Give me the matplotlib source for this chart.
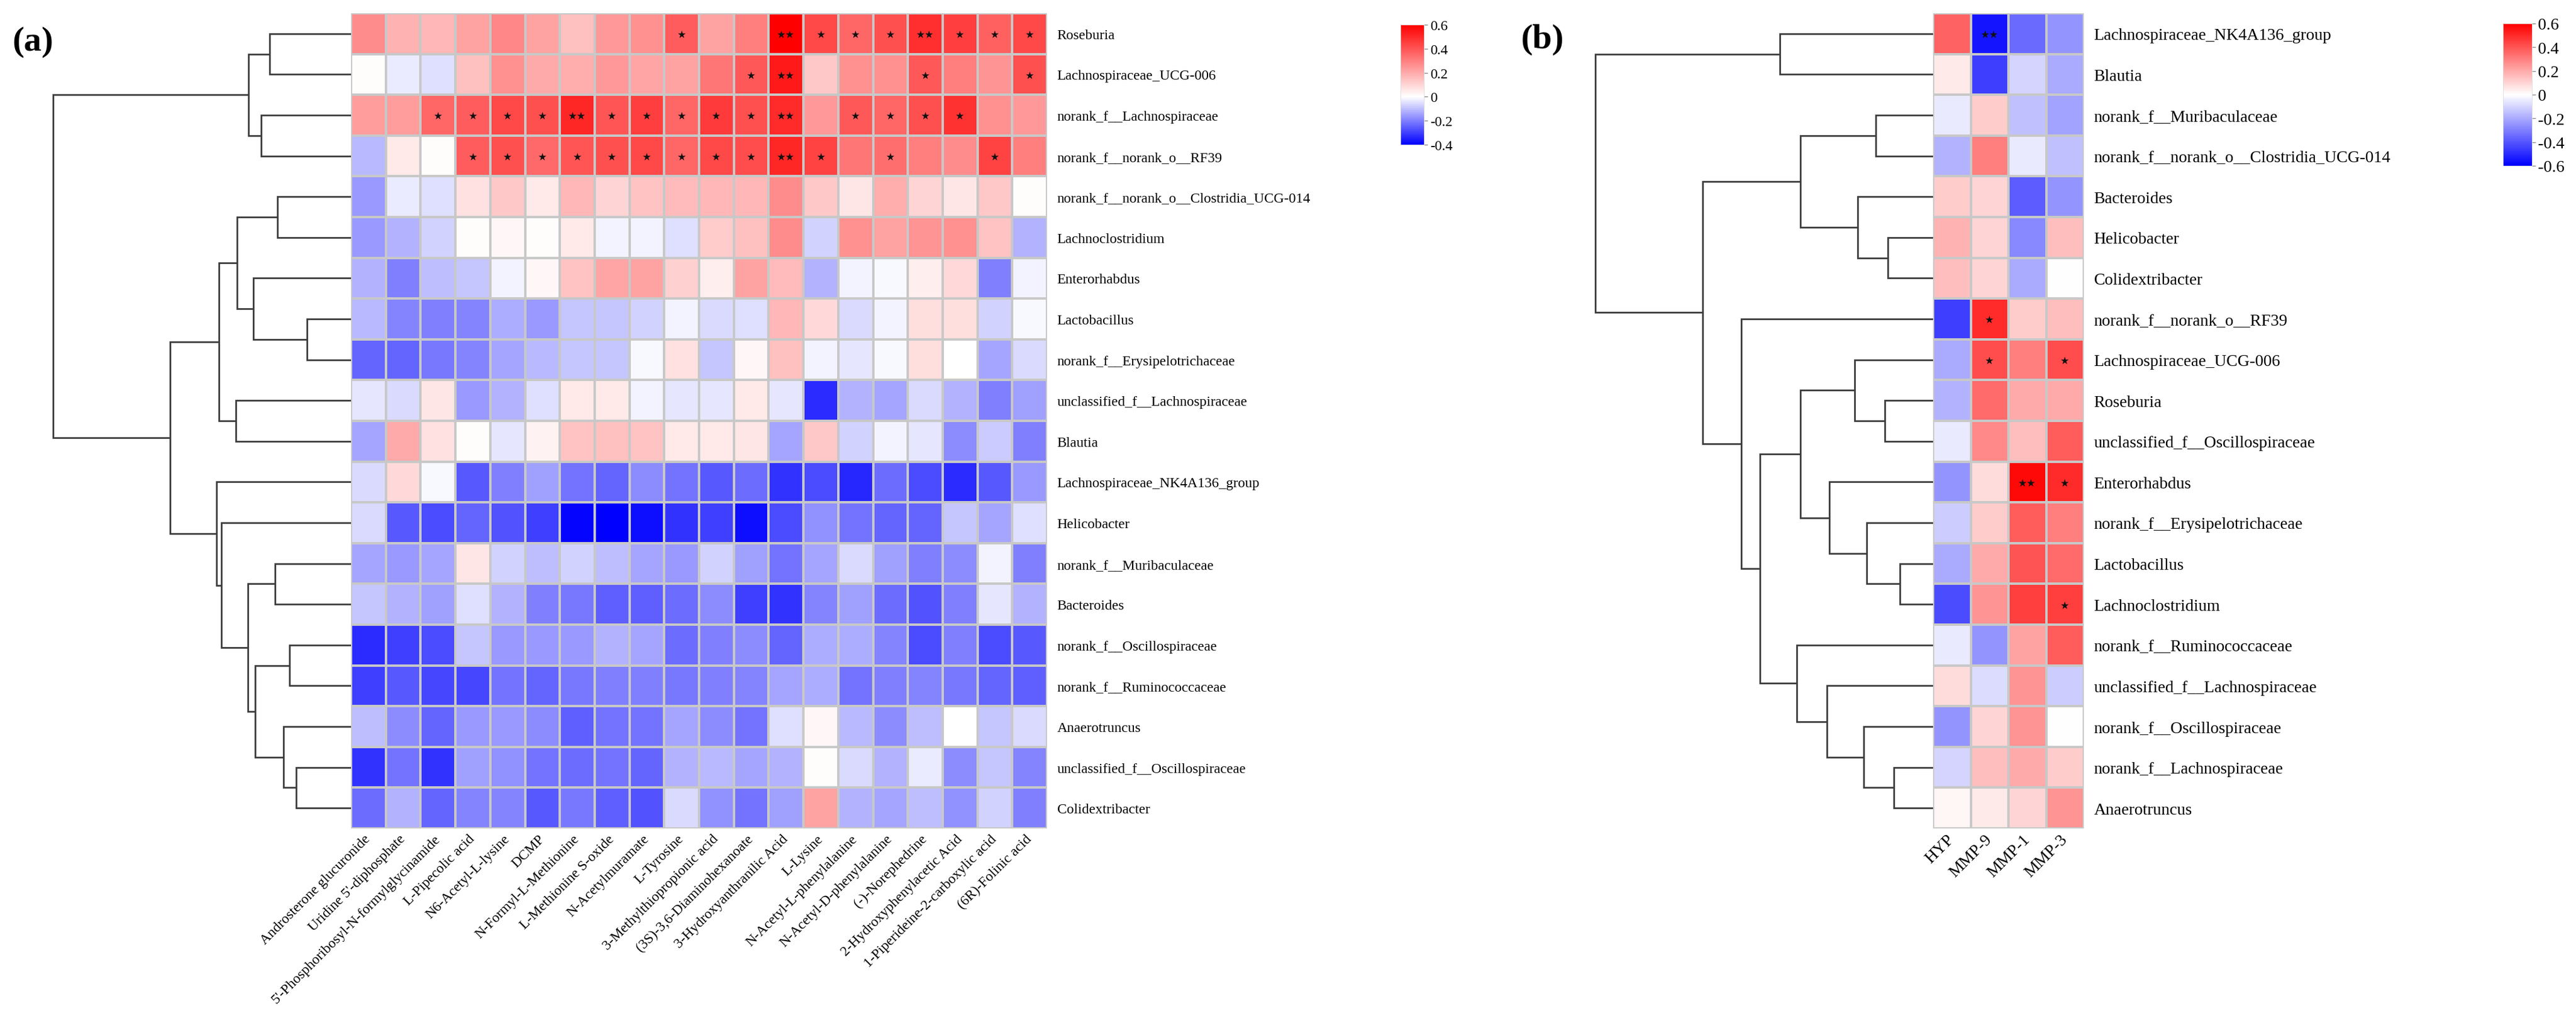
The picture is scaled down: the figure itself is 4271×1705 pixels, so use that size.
import matplotlib
matplotlib.use("Agg")
import matplotlib.pyplot as plt
import numpy as np
from matplotlib.colors import LinearSegmentedColormap, Normalize

# ---------------- data : panel (a) ----------------
rows_a = ["Roseburia", "Lachnospiraceae_UCG-006", "norank_f__Lachnospiraceae",
          "norank_f__norank_o__RF39", "norank_f__norank_o__Clostridia_UCG-014",
          "Lachnoclostridium", "Enterorhabdus", "Lactobacillus",
          "norank_f__Erysipelotrichaceae", "unclassified_f__Lachnospiraceae",
          "Blautia", "Lachnospiraceae_NK4A136_group", "Helicobacter",
          "norank_f__Muribaculaceae", "Bacteroides", "norank_f__Oscillospiraceae",
          "norank_f__Ruminococcaceae", "Anaerotruncus",
          "unclassified_f__Oscillospiraceae", "Colidextribacter"]
cols_a = ["Androsterone glucuronide", "Uridine 5'-diphosphate",
          "5'-Phosphoribosyl-N-formylglycinamide", "L-Pipecolic acid",
          "N6-Acetyl-L-lysine", "DCMP", "N-Formyl-L-Methionine",
          "L-Methionine S-oxide", "N-Acetylmuramate", "L-Tyrosine",
          "3-Methylthiopropionic acid", "(3S)-3,6-Diaminohexanoate",
          "3-Hydroxyanthranilic Acid", "L-Lysine", "N-Acetyl-L-phenylalanine",
          "N-Acetyl-D-phenylalanine", "(-)-Norephedrine",
          "2-Hydroxyphenylacetic Acid", "1-Piperideine-2-carboxylic acid",
          "(6R)-Folinic acid"]
vals_a = [
 [0.27,0.18,0.17,0.22,0.28,0.22,0.15,0.24,0.26,0.38,0.22,0.30,0.60,0.43,0.36,0.41,0.49,0.45,0.37,0.43],
 [0.01,-0.03,-0.05,0.15,0.26,0.20,0.19,0.24,0.21,0.22,0.32,0.39,0.54,0.13,0.26,0.26,0.39,0.30,0.25,0.41],
 [0.23,0.23,0.36,0.38,0.43,0.41,0.51,0.40,0.45,0.36,0.46,0.41,0.50,0.24,0.39,0.36,0.41,0.48,0.26,0.24],
 [-0.11,0.05,0.01,0.38,0.41,0.35,0.40,0.41,0.43,0.36,0.43,0.42,0.51,0.44,0.32,0.34,0.30,0.27,0.44,0.30],
 [-0.16,-0.03,-0.05,0.07,0.13,0.05,0.17,0.10,0.14,0.16,0.17,0.17,0.27,0.13,0.06,0.19,0.10,0.06,0.13,0.01],
 [-0.16,-0.12,-0.07,0.01,0.02,0.01,0.05,-0.02,-0.02,-0.05,0.12,0.15,0.27,-0.07,0.26,0.22,0.25,0.26,0.14,-0.12],
 [-0.12,-0.20,-0.10,-0.09,-0.02,0.02,0.14,0.21,0.22,0.11,0.04,0.22,0.16,-0.12,-0.02,-0.01,0.04,0.09,-0.20,-0.02],
 [-0.11,-0.19,-0.20,-0.19,-0.13,-0.16,-0.09,-0.09,-0.07,-0.02,-0.06,-0.05,0.17,0.09,-0.06,-0.02,0.08,0.08,-0.07,-0.01],
 [-0.24,-0.24,-0.21,-0.19,-0.14,-0.11,-0.09,-0.09,-0.01,0.07,-0.09,0.02,0.15,-0.02,-0.04,-0.01,0.08,0.00,-0.14,-0.06],
 [-0.04,-0.06,0.06,-0.16,-0.12,-0.05,0.05,0.05,-0.02,-0.04,-0.04,0.05,-0.04,-0.33,-0.12,-0.14,-0.06,-0.12,-0.20,-0.15],
 [-0.14,0.20,0.07,0.01,-0.04,0.03,0.14,0.15,0.14,0.05,0.05,0.06,-0.14,0.13,-0.07,-0.02,-0.04,-0.18,-0.08,-0.20],
 [-0.06,0.09,-0.01,-0.26,-0.20,-0.15,-0.22,-0.24,-0.18,-0.22,-0.26,-0.23,-0.32,-0.28,-0.34,-0.23,-0.28,-0.33,-0.26,-0.16],
 [-0.06,-0.26,-0.28,-0.24,-0.27,-0.30,-0.39,-0.40,-0.38,-0.32,-0.30,-0.38,-0.28,-0.17,-0.22,-0.24,-0.24,-0.09,-0.14,-0.05],
 [-0.14,-0.16,-0.14,0.06,-0.07,-0.10,-0.07,-0.10,-0.14,-0.16,-0.07,-0.15,-0.22,-0.14,-0.06,-0.15,-0.20,-0.18,-0.02,-0.20],
 [-0.09,-0.12,-0.15,-0.05,-0.12,-0.20,-0.21,-0.25,-0.25,-0.23,-0.18,-0.30,-0.32,-0.19,-0.15,-0.23,-0.27,-0.20,-0.04,-0.12],
 [-0.33,-0.30,-0.28,-0.09,-0.16,-0.16,-0.16,-0.12,-0.14,-0.23,-0.20,-0.18,-0.24,-0.13,-0.13,-0.19,-0.28,-0.20,-0.28,-0.26],
 [-0.30,-0.26,-0.29,-0.29,-0.22,-0.24,-0.21,-0.20,-0.20,-0.21,-0.20,-0.19,-0.14,-0.13,-0.22,-0.20,-0.19,-0.21,-0.24,-0.25],
 [-0.10,-0.18,-0.24,-0.16,-0.16,-0.18,-0.25,-0.22,-0.22,-0.14,-0.18,-0.22,-0.05,0.02,-0.11,-0.18,-0.10,0.00,-0.09,-0.06],
 [-0.32,-0.22,-0.32,-0.15,-0.17,-0.22,-0.23,-0.22,-0.24,-0.12,-0.11,-0.14,-0.12,0.01,-0.06,-0.12,-0.03,-0.18,-0.09,-0.19],
 [-0.23,-0.12,-0.24,-0.19,-0.19,-0.26,-0.21,-0.25,-0.27,-0.06,-0.17,-0.22,-0.15,0.22,-0.12,-0.14,-0.10,-0.17,-0.07,-0.20],
]
# significance codes per row: 0 none, 1 "*", 2 "**"
sig_a = ["00000000010021112111",
         "00000000000120001001",
         "00111121111120111100",
         "00011111111121010010"] + ["0" * 20] * 16
# dendrogram (a): (left, right, height); leaves are row indices
tree_a = (((0, 1, 135), (2, 3, 149), 170),
          (((((4, 5, 122), (6, (7, 8, 73), 162), 189), (9, 10, 191), 219)),
           (11, (12, ((13, 14, 126), ((15, 16, 102), (17, (18, 19, 91), 112), 159), 171), 215), 223),
           300),
          494)

# ---------------- data : panel (b) ----------------
rows_b = ["Lachnospiraceae_NK4A136_group", "Blautia", "norank_f__Muribaculaceae",
          "norank_f__norank_o__Clostridia_UCG-014", "Bacteroides", "Helicobacter",
          "Colidextribacter", "norank_f__norank_o__RF39", "Lachnospiraceae_UCG-006",
          "Roseburia", "unclassified_f__Oscillospiraceae", "Enterorhabdus",
          "norank_f__Erysipelotrichaceae", "Lactobacillus", "Lachnoclostridium",
          "norank_f__Ruminococcaceae", "unclassified_f__Lachnospiraceae",
          "norank_f__Oscillospiraceae", "norank_f__Lachnospiraceae", "Anaerotruncus"]
cols_b = ["HYP", "MMP-9", "MMP-1", "MMP-3"]
vals_b = [
 [0.37,-0.55,-0.35,-0.25],
 [0.05,-0.45,-0.10,-0.20],
 [-0.05,0.12,-0.15,-0.22],
 [-0.18,0.30,-0.05,-0.15],
 [0.12,0.10,-0.38,-0.25],
 [0.18,0.10,-0.28,0.15],
 [0.15,0.10,-0.20,0.00],
 [-0.45,0.50,0.12,0.15],
 [-0.20,0.42,0.30,0.42],
 [-0.18,0.35,0.20,0.20],
 [-0.05,0.28,0.15,0.38],
 [-0.25,0.08,0.58,0.50],
 [-0.12,0.12,0.38,0.30],
 [-0.20,0.20,0.40,0.35],
 [-0.42,0.25,0.45,0.45],
 [-0.05,-0.25,0.22,0.38],
 [0.08,-0.08,0.25,-0.12],
 [-0.25,0.10,0.25,0.00],
 [-0.10,0.15,0.20,0.12],
 [0.02,0.05,0.10,0.25],
]
sig_b = ["0200", "0000", "0000", "0000", "0000", "0000", "0000", "0100",
         "0101", "0000", "0000", "0021", "0000", "0000", "0001", "0000",
         "0000", "0000", "0000", "0000"]
tree_b = ((0, 1, 254),
          (((2, 3, 95), (4, (5, 6, 75), 125), 220),
           (7, (((8, (9, 10, 80), 130), (11, (12, (13, 14, 55), 110), 172), 220),
                (15, (16, (17, (18, 19, 65), 115), 176), 226), 287), 318),
           382),
          560)

# ---------------- layout helpers ----------------
W, H = 4271, 1706
fig = plt.figure(figsize=(W / 100, H / 100), dpi=100)
plt.rcParams['font.family'] = ['Liberation Serif', 'DejaVu Serif']


def add_px_axes(x0, y0, x1, y1):
    return fig.add_axes([x0 / W, 1 - y1 / H, (x1 - x0) / W, (y1 - y0) / H])


cmap_a = LinearSegmentedColormap.from_list("ca", [(0.0, "#0000ff"), (0.4, "#ffffff"), (1.0, "#ff0000")])
norm_a = Normalize(-0.4, 0.6)
cmap_b = LinearSegmentedColormap.from_list("cb", [(0.0, "#0000ff"), (0.5, "#ffffff"), (1.0, "#ff0000")])
norm_b = Normalize(-0.6, 0.6)

LINE_C = "#3c3c3c"
GRID_C = "#c8c8c8"
STAR_TXT = {"1": "\u2605", "2": "\u2605\u2605"}


def draw_tree(ax, node, ypos):
    if isinstance(node, int):
        return ypos[node], 0.0
    l, r, h = node
    yl, hl = draw_tree(ax, l, ypos)
    yr, hr = draw_tree(ax, r, ypos)
    ax.plot([hl, h, h, hr], [yl, yl, yr, yr], color=LINE_C, lw=2.0,
            solid_capstyle="butt", solid_joinstyle="miter")
    return (yl + yr) / 2, h


def heatmap(ax, vals, rows, cols, sig, cmap, norm, fs):
    data = np.array(vals)
    nr, nc = data.shape
    ax.pcolormesh(np.arange(nc + 1), np.arange(nr + 1), data, cmap=cmap, norm=norm,
                  edgecolors=GRID_C, linewidth=1.6)
    ax.set_xlim(0, nc)
    ax.set_ylim(nr, 0)
    ax.set_yticks(np.arange(nr) + 0.5)
    ax.set_yticklabels(rows, fontsize=fs)
    ax.yaxis.tick_right()
    ax.set_xticks(np.arange(nc) + 0.5)
    ax.set_xticklabels(cols, fontsize=fs, rotation=45, ha="right",
                       va="center", rotation_mode="anchor")
    ax.tick_params(axis="y", length=0, pad=12)
    ax.tick_params(axis="x", length=0, pad=10)
    for s in ax.spines.values():
        s.set_visible(False)
    for i, code in enumerate(sig):
        for j, c in enumerate(code):
            if c != "0":
                ax.text(j + 0.5, i + 0.52, STAR_TXT[c], ha="center", va="center",
                        fontsize=12, color="#111111", family="DejaVu Sans")


def colorbar(x0, y0, x1, y1, cmap, norm, ticks, fs):
    cax = add_px_axes(x0, y0, x1, y1)
    sm = plt.cm.ScalarMappable(cmap=cmap, norm=norm)
    cb = fig.colorbar(sm, cax=cax, ticks=ticks)
    cb.ax.set_yticklabels(["0" if t == 0 else ("%g" % t) for t in ticks], fontsize=fs)
    cb.ax.tick_params(length=4, width=1.0, color="#888888", pad=3)
    cb.outline.set_edgecolor("#dddddd")
    cb.outline.set_linewidth(0.6)


# ---------------- panel (a) ----------------
HX0, HX1, HY0, HY1 = 582, 1736, 23, 1375
ax_a = add_px_axes(HX0, HY0, HX1, HY1)
heatmap(ax_a, vals_a, rows_a, cols_a, sig_a, cmap_a, norm_a, 17)

ax_da = add_px_axes(0, HY0, HX0, HY1)
draw_tree(ax_da, tree_a, {i: i + 0.5 for i in range(len(rows_a))})
ax_da.set_xlim(HX0, 0)
ax_da.set_ylim(len(rows_a), 0)
ax_da.axis("off")

colorbar(2322, 42, 2361, 241, cmap_a, norm_a, [0.6, 0.4, 0.2, 0, -0.2, -0.4], 17)
fig.text(20 / W, 1 - 70 / H, "(a)", fontsize=42, fontweight="bold", ha="left", va="center")

# ---------------- panel (b) ----------------
BX0, BX1 = 3205, 3455
ax_b = add_px_axes(BX0, HY0, BX1, HY1)
heatmap(ax_b, vals_b, rows_b, cols_b, sig_b, cmap_b, norm_b, 20)

DB0 = 2600
ax_db = add_px_axes(DB0, HY0, BX0, HY1)
draw_tree(ax_db, tree_b, {i: i + 0.5 for i in range(len(rows_b))})
ax_db.set_xlim(BX0 - DB0, 0)
ax_db.set_ylim(len(rows_b), 0)
ax_db.axis("off")

colorbar(4150, 40, 4198, 276, cmap_b, norm_b, [0.6, 0.4, 0.2, 0, -0.2, -0.4, -0.6], 20)
fig.text(2521 / W, 1 - 66 / H, "(b)", fontsize=42, fontweight="bold", ha="left", va="center")

fig.savefig("out.png", dpi=100, facecolor="white")
